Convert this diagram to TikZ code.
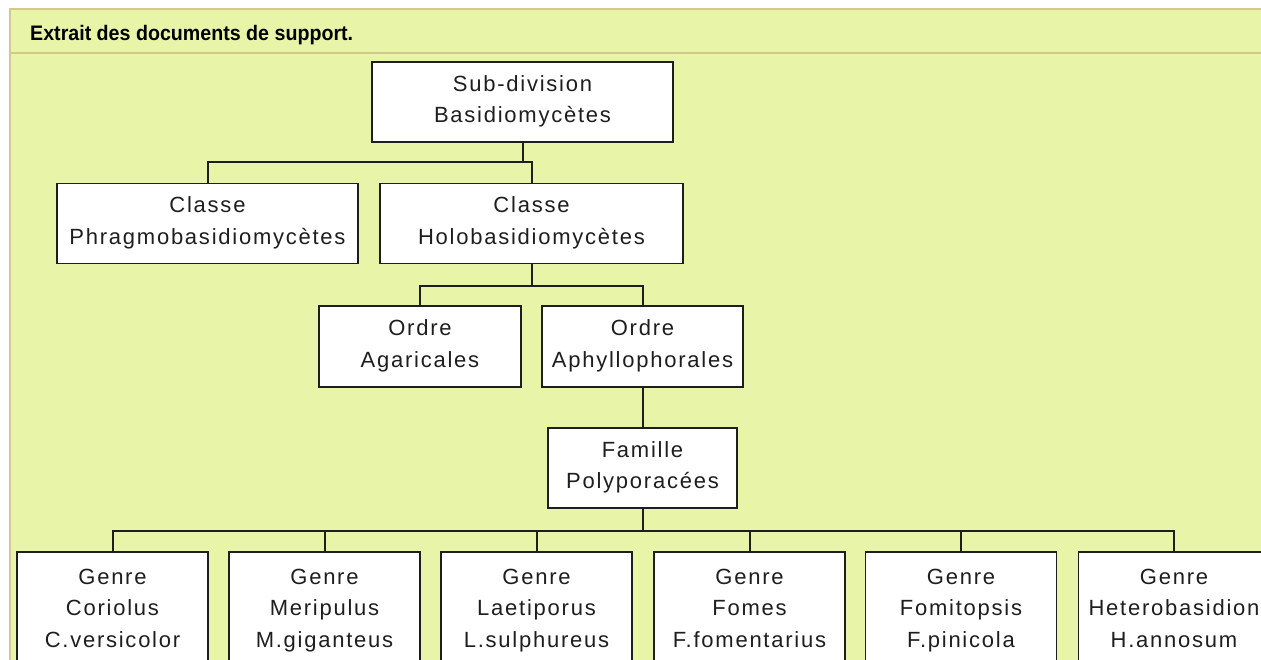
\documentclass[tikz,border=0pt]{standalone}
\usepackage{fontspec}
\setmainfont{Liberation Sans}
\newfontfamily\boxfont[LetterSpace=8]{Liberation Sans}
\definecolor{panelbg}{HTML}{E8F4A8}
\definecolor{panelborder}{HTML}{D2C98E}
\definecolor{ink}{HTML}{1E1E1E}
\begin{document}
\begin{tikzpicture}[x=1pt,y=-1pt,
  taxbox/.style={draw=ink, line width=1.8pt, fill=white, inner sep=0pt,
    align=center, text=ink, font=\boxfont\fontsize{22}{31.5}\selectfont,
    execute at begin node=\rule{0pt}{32pt},
    execute at end node=\rule[-6pt]{0pt}{6pt}},
  wide/.style={taxbox, minimum width=301pt, minimum height=80pt},
  genrebox/.style={taxbox, minimum width=191pt, minimum height=118pt},
  link/.style={draw=ink, line width=2pt}]
\useasboundingbox (0,0) rectangle (1261,659);
\clip (0,0) rectangle (1261,659);
\fill[white] (0,0) rectangle (1261,659);
\draw[panelborder, line width=2.2pt, fill=panelbg] (10,9) rectangle (1300,720);
\draw[panelborder, line width=2.2pt] (10,53) -- (1300,53);
\node[anchor=base west, inner sep=0pt, font=\bfseries\fontsize{21}{24}\selectfont, text=black] (title) at (30,40.5) {\scalebox{0.935}[1]{Extrait des documents de support.}};

\node[wide] (sub) at (522.5,102) {Sub-division\\Basidiomycètes};
\node[wide] (phr) at (207.5,223.5) {Classe\\Phragmobasidiomycètes};
\node[wide, minimum width=303pt] (holo) at (531.5,223.5) {Classe\\Holobasidiomycètes};
\node[taxbox, minimum width=202pt, minimum height=81pt] (agar) at (420,346.5) {Ordre\\Agaricales};
\node[taxbox, minimum width=201pt, minimum height=81pt] (aphy) at (642.5,346.5) {Ordre\\Aphyllophorales};
\node[taxbox, minimum width=189pt, minimum height=80pt] (fam) at (642.5,468) {Famille\\Polyporacées};

\node[genrebox] (g1) at (112.5,611) {Genre\\Coriolus\\C.versicolor};
\node[genrebox] (g2) at (324.5,611) {Genre\\Meripulus\\M.giganteus};
\node[genrebox] (g3) at (536.5,611) {Genre\\Laetiporus\\L.sulphureus};
\node[genrebox] (g4) at (749.5,611) {Genre\\Fomes\\F.fomentarius};
\node[genrebox] (g5) at (961,611) {Genre\\Fomitopsis\\F.pinicola};
\node[genrebox] (g6) at (1174,611) {Genre\\Heterobasidion\\H.annosum};

\coordinate (j1) at (sub.south |- 0,162);
\coordinate (j2) at (holo.south |- 0,286);
\coordinate (j3) at (fam.south |- 0,531);

\draw[link] (sub.south) -- (j1);
\draw[link] (phr.north) |- (j1) -| (holo.north);
\draw[link] (holo.south) -- (j2);
\draw[link] (agar.north) |- (j2) -| (aphy.north);
\draw[link] (aphy.south) -- (fam.north);
\draw[link] (fam.south) -- (j3);
\draw[link] (g1.north) |- (j3) -| (g6.north);
\foreach \g in {g2,g3,g4,g5} \draw[link] (\g.north) -- (\g.north |- j3);
\end{tikzpicture}
\end{document}
